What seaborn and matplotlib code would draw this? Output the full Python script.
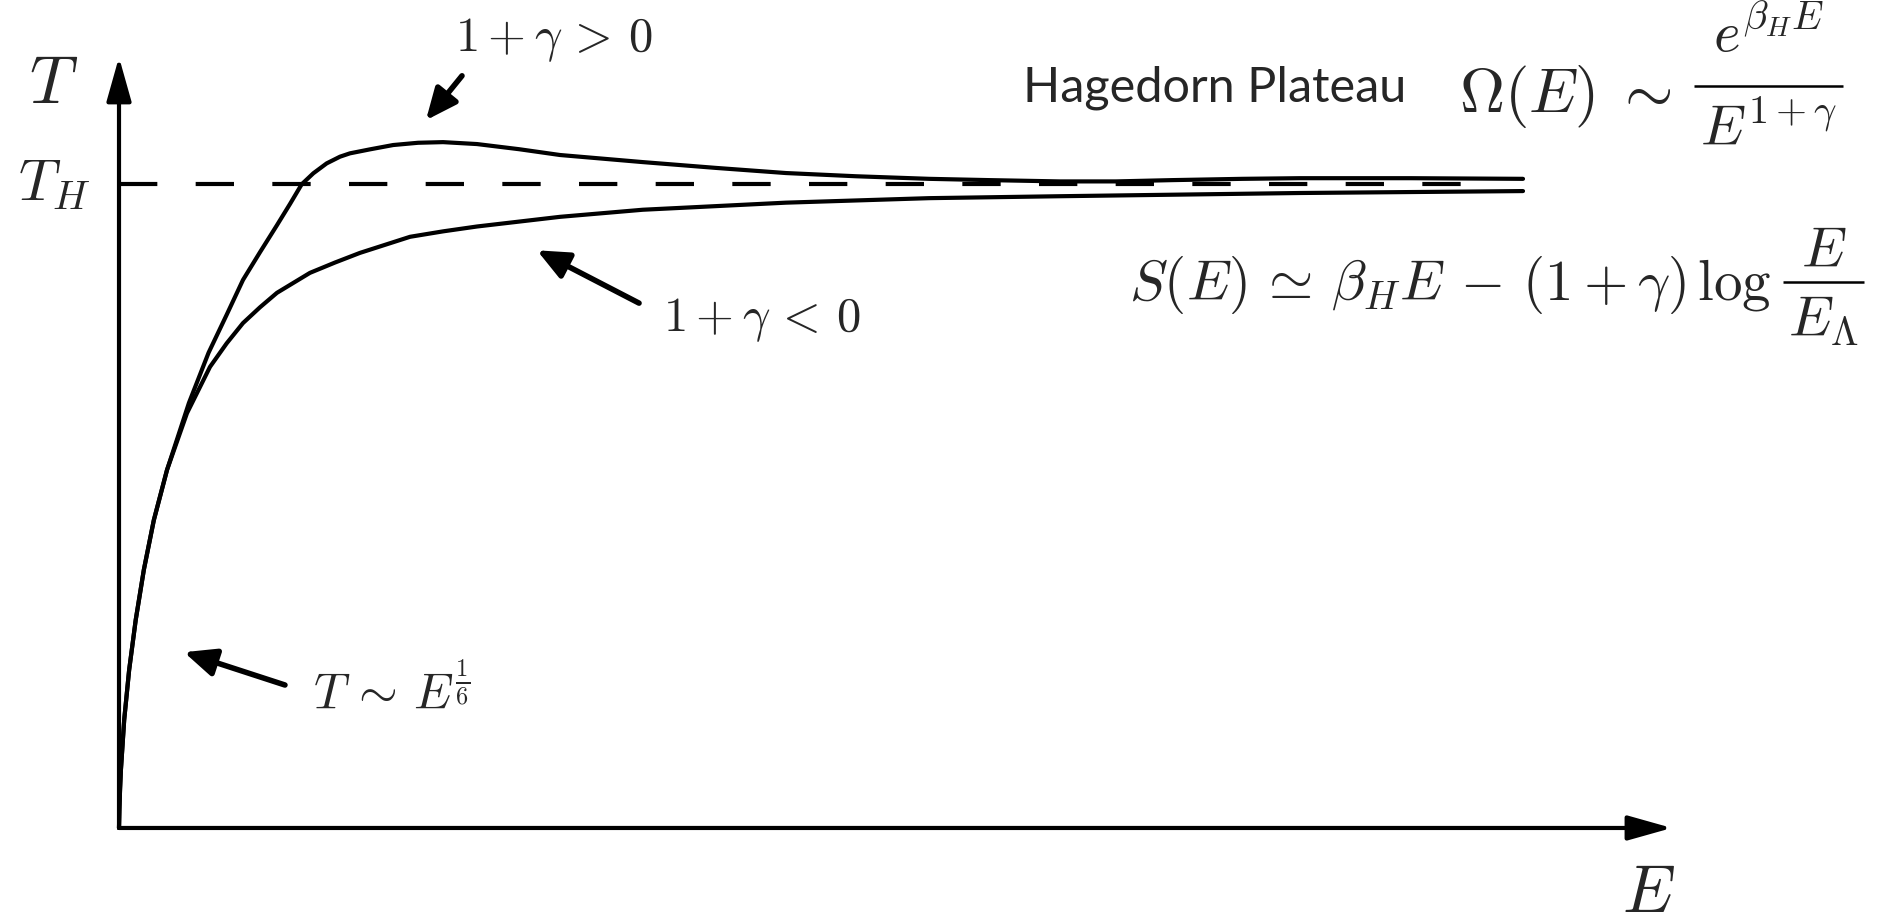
import numpy as np
import pandas as pd
import matplotlib
matplotlib.use("Agg")
import matplotlib.pyplot as plt
import seaborn as sns

# Temperature T (in units of T_H) versus energy E for the two branches
energy_pos = [0.0, 0.003, 0.0075, 0.0135, 0.037, 0.072, 0.119, 0.177, 0.248, 0.342,
              0.498, 0.638, 0.767, 0.883, 1.004, 1.125, 1.218, 1.301, 1.384, 1.479,
              1.574, 1.645, 1.788, 1.953, 2.130, 2.308, 2.550, 2.850, 3.141, 3.73,
              4.25, 4.75, 5.25, 5.77, 6.20, 6.70, 7.10, 7.50, 8.00, 8.41, 9.20, 10.0]
temp_pos = [0.0, 0.030, 0.060, 0.090, 0.168, 0.245, 0.323, 0.401, 0.478, 0.556,
            0.660, 0.738, 0.797, 0.851, 0.894, 0.936, 0.969, 0.9995, 1.0166, 1.032,
            1.0424, 1.0476, 1.0538, 1.0605, 1.0640, 1.065, 1.062, 1.054, 1.045, 1.034,
            1.025, 1.017, 1.012, 1.008, 1.006, 1.004, 1.004, 1.006, 1.008, 1.009,
            1.009, 1.008]

energy_neg = [0.0, 0.003, 0.0075, 0.0135, 0.037, 0.072, 0.119, 0.177, 0.248, 0.342,
              0.484, 0.648, 0.767, 0.883, 1.004, 1.125, 1.360, 1.538, 1.716, 2.073,
              2.310, 2.550, 3.141, 3.73, 4.75, 5.77, 6.70, 8.41, 10.0]
temp_neg = [0.0, 0.030, 0.060, 0.090, 0.168, 0.245, 0.323, 0.401, 0.478, 0.556,
            0.644, 0.716, 0.7526, 0.784, 0.8085, 0.831, 0.862, 0.878, 0.893, 0.918,
            0.9265, 0.934, 0.949, 0.960, 0.971, 0.978, 0.981, 0.986, 0.989]

branch_labels = [r"$1+\gamma\,>\,0$", r"$1+\gamma\,<\,0$"]
T_H = 1.0
plateau_end = 9.74
E_axis_end = 11.06
T_axis_end = 1.197

df = pd.concat([
    pd.DataFrame({"E": energy_pos, "T": temp_pos, "branch": branch_labels[0]}),
    pd.DataFrame({"E": energy_neg, "T": temp_neg, "branch": branch_labels[1]}),
], ignore_index=True)

sns.set_theme(style="white")
plt.rcParams["mathtext.fontset"] = "cm"
plt.rcParams["font.family"] = ["DejaVu Sans"]

fig = plt.figure(figsize=(18.83, 9.22), dpi=100)
ax = fig.add_axes([0, 0, 1, 1])
ax.set_xlim(-0.8476, 12.564)
ax.set_ylim(-0.146, 1.2857)
ax.axis("off")

sns.lineplot(data=df, x="E", y="T", hue="branch", palette=["black", "black"],
             estimator=None, sort=False, linewidth=3.0, legend=False, ax=ax,
             zorder=3)
for ln in ax.lines:
    ln.set_solid_joinstyle("round")

# Hagedorn temperature
ax.plot([0, plateau_end], [T_H, T_H], color="black", lw=3.0,
        ls=(0, (9.2, 9.2)), zorder=2)

# Coordinate axes with arrow heads
axis_arrow = dict(arrowstyle="-|>,head_length=1.35,head_width=0.38",
                  mutation_scale=20, lw=3.0, color="black",
                  shrinkA=0, shrinkB=0)
ax.annotate("", xy=(E_axis_end, 0), xytext=(0, 0), arrowprops=axis_arrow)
ax.annotate("", xy=(0, T_axis_end), xytext=(0, 0), arrowprops=axis_arrow)

ax.text(-0.463, 1.126, r"$T$", fontsize=48, ha="center", va="baseline")
ax.text(-0.207, 0.975, r"$T_H$", fontsize=42, ha="right", va="baseline")
ax.text(10.89, -0.130, r"$E$", fontsize=48, ha="center", va="baseline")

# Pointer arrows with their labels
ptr = dict(arrowstyle="-|>,head_length=0.95,head_width=0.42",
           mutation_scale=20, lw=4.0, color="black", shrinkA=0, shrinkB=0)
ax.annotate("", xy=(2.186, 1.099), xytext=(2.443, 1.168), arrowprops=ptr)
ax.text(2.393, 1.2065, branch_labels[0], fontsize=35, ha="left", va="baseline")

ax.annotate("", xy=(2.977, 0.897), xytext=(3.704, 0.815), arrowprops=ptr)
ax.text(3.875, 0.772, branch_labels[1], fontsize=35, ha="left", va="baseline")

ax.annotate("", xy=(0.463, 0.273), xytext=(1.182, 0.222), arrowprops=ptr)
ax.text(1.382, 0.186, r"$T\,\sim\,E^{\frac{1}{6}}$", fontsize=36,
        ha="left", va="baseline")

ax.text(6.44, 1.128, "Hagedorn Plateau", fontsize=35, family=["Lato"],
        ha="left", va="baseline")

renderer = fig.canvas.get_renderer()
to_data = ax.transData.inverted()


def width_px(t):
    return t.get_window_extent(renderer=renderer).width


def display_fraction(x_left, bar_T, num, den, size, num_T, den_T, pad_px):
    """Display-style fraction: full-size numerator and denominator over a rule."""
    tn = ax.text(0, num_T, num, fontsize=size, ha="center", va="baseline")
    td = ax.text(0, den_T, den, fontsize=size, ha="center", va="baseline")
    x0 = ax.transData.transform((x_left, bar_T))[0]
    w = max(width_px(tn), width_px(td)) + 2 * pad_px
    xc = to_data.transform((x0 + w / 2, 0))[0]
    x1 = to_data.transform((x0 + w, 0))[0]
    tn.set_x(xc)
    td.set_x(xc)
    ax.plot([x_left, x1], [bar_T, bar_T], color="black", lw=1.8,
            solid_capstyle="butt")


def lead_text(x, y, s, size, gap_px):
    t = ax.text(x, y, s, fontsize=size, ha="left", va="baseline")
    bb = t.get_window_extent(renderer=renderer)
    return to_data.transform((bb.x1 + gap_px, 0))[0]


# Density of states
x_next = lead_text(9.544, 1.1118, r"$\Omega(E)\;\sim$", 45, 22)
display_fraction(x_next, 1.1514, r"$e^{\beta_H E}$", r"$E^{1+\gamma}$", 41,
                 1.205, 1.0606, 6)

# Entropy
x_next = lead_text(7.193, 0.8199,
                   r"$S(E)\,\simeq\,\beta_H E\,-\,(1+\gamma)\,\log$", 41, 12)
display_fraction(x_next, 0.8478, r"$E$", r"$E_\Lambda$", 41,
                 0.8717, 0.764, 5)

fig.savefig("out.png", dpi=100)
